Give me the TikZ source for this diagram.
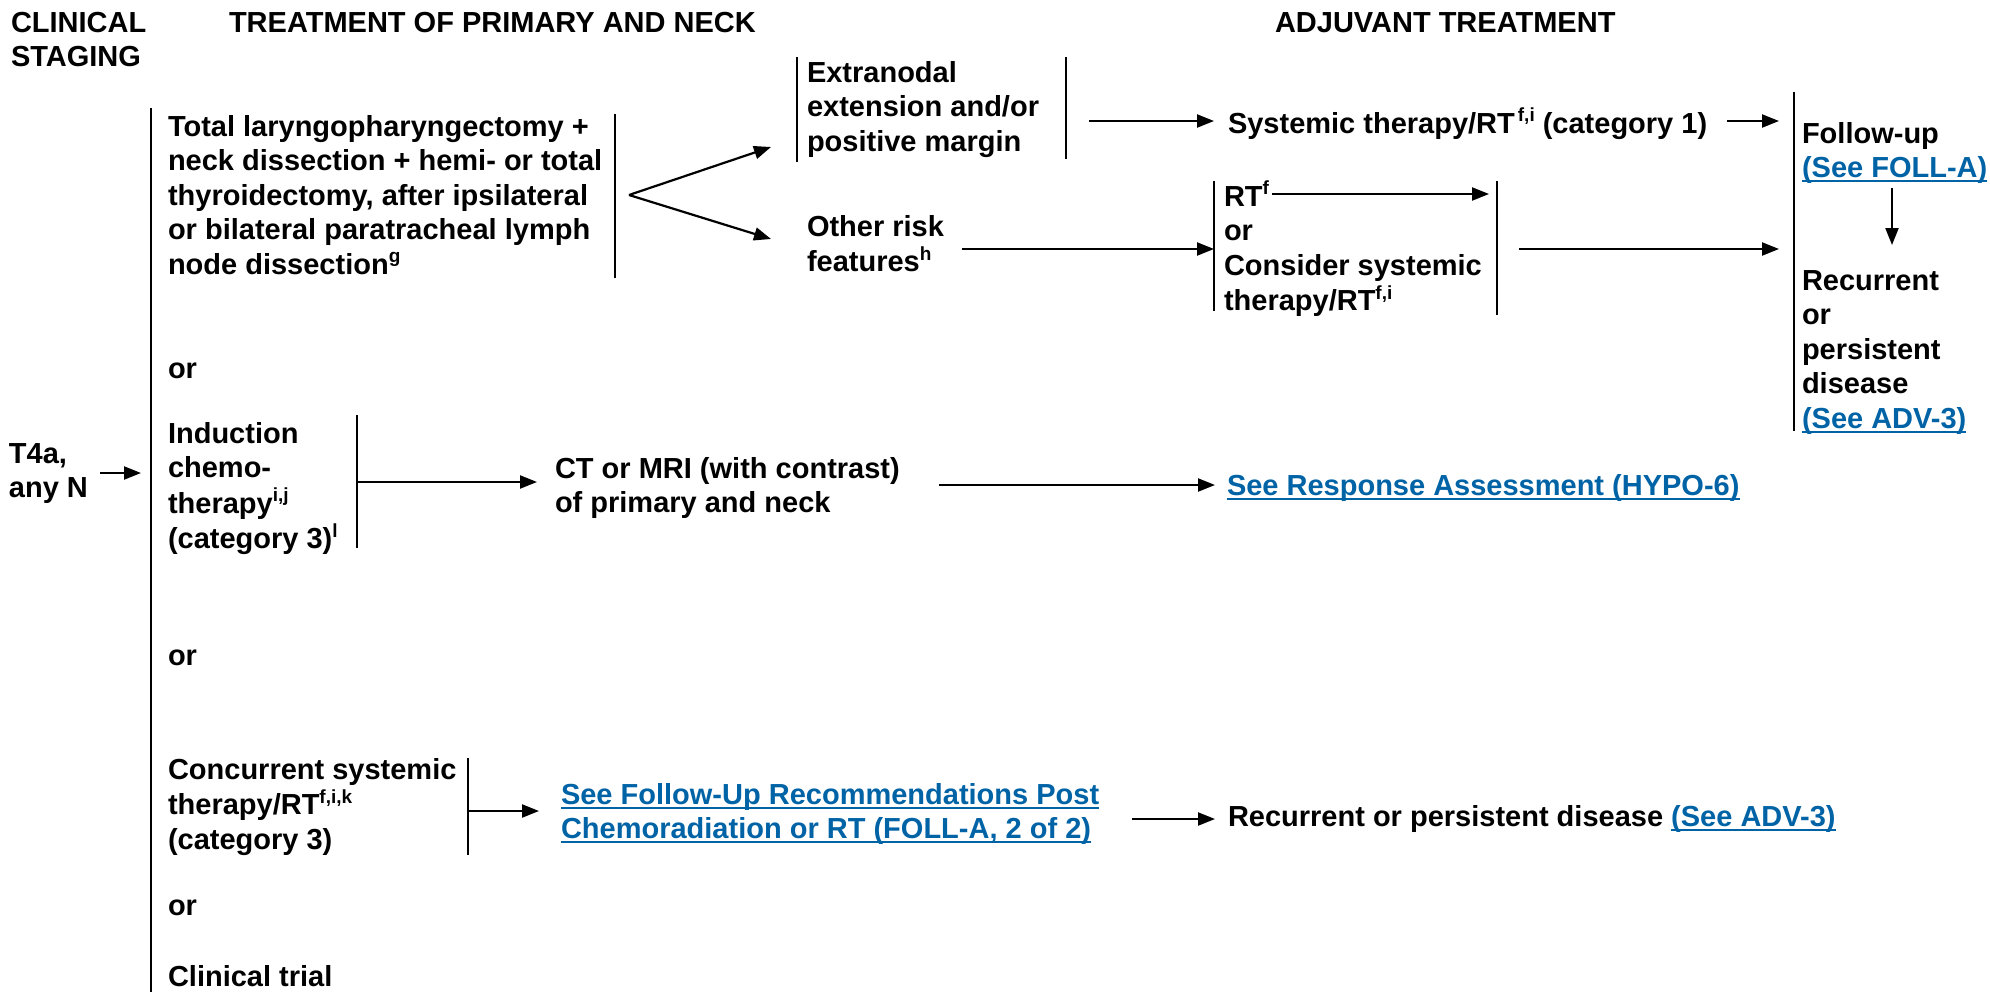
\documentclass[tikz,border=0pt]{standalone}
\usepackage{fontspec}
\setmainfont{Liberation Sans}
\usetikzlibrary{arrows.meta}
\definecolor{linkblue}{HTML}{0063A6}

% multi-line text block whose baseline is the first line
\newcommand\txtlines[1]{\begin{tabular}[t]{@{}l@{}}#1\end{tabular}}
% small raised footnote letters
\newcommand\supr[1]{\raisebox{11.5pt}{\fontsize{19}{19}\selectfont #1}}
% blue underlined cross reference
\newcommand\lnk[1]{{\color{linkblue}\setbox0\hbox{#1}\rlap{\rule[-4.5pt]{\wd0}{1.8pt}}\box0}}

\tikzset{
  txt/.style={anchor=base west, inner sep=0pt, outer sep=0pt,
              font=\fontsize{29}{34.5}\selectfont\bfseries},
  bar/.style={line width=2.2pt},
  arr/.style={line width=2.2pt, -{Triangle[length=17pt,width=13pt]}},
}

\begin{document}
\begin{tikzpicture}[x=1pt,y=-1pt]
\useasboundingbox (0,0) rectangle (1990,991);

% column headings
\node[txt] (hclin)  at (11,32)   {\txtlines{CLINICAL\\STAGING}};
\node[txt] (htreat) at (229,32)  {TREATMENT OF PRIMARY AND NECK};
\node[txt] (hadj)   at (1275,32) {ADJUVANT TREATMENT};

% staging and the main bracket
\node[txt] (t4a) at (9,463) {\txtlines{T4a,\\any N}};
\coordinate (mainTop) at (151,108);
\coordinate (mainBot) at (151,993);
\coordinate (t4aOut) at (100,473);
\coordinate (t4aIn)  at (141,473);
\draw[bar] (mainTop) -- (mainBot);
\draw[arr] (t4aOut) -- (t4aIn);

% surgery option
\node[txt] (surg) at (168,136) {\txtlines{Total laryngopharyngectomy +\\neck dissection + hemi- or total\\thyroidectomy, after ipsilateral\\or bilateral paratracheal lymph\\node dissection\supr{g}}};
\coordinate (surgBarT) at (615,114);
\coordinate (surgBarB) at (615,278);
\draw[bar] (surgBarT) -- (surgBarB);
\coordinate (fork) at (629,195);
\coordinate (extTip) at (771,147);
\coordinate (othTip) at (771,239);
\draw[arr] (fork) -- (extTip);
\draw[arr] (fork) -- (othTip);

% extranodal extension branch
\node[txt] (ext) at (807,82) {\txtlines{Extranodal\\extension and/or\\positive margin}};
\coordinate (extLT) at (797,57);  \coordinate (extLB) at (797,162);
\coordinate (extRT) at (1066,57); \coordinate (extRB) at (1066,159);
\draw[bar] (extLT) -- (extLB);
\draw[bar] (extRT) -- (extRB);
\coordinate (extOut) at (1089,121);
\coordinate (sysIn) at (1214,121);
\draw[arr] (extOut) -- (sysIn);
\node[txt] (sys) at (1228,133) {Systemic therapy/RT\hspace{3pt}\supr{f,i} (category 1)};
\coordinate (sysOut) at (1727,121);
\coordinate (fuIn1) at (1779,121);
\draw[arr] (sysOut) -- (fuIn1);

% other risk features branch
\node[txt] (oth) at (807,236) {\txtlines{Other risk\\features\supr{h}}};
\coordinate (othOut) at (962,249);
\coordinate (rtIn) at (1214,249);
\draw[arr] (othOut) -- (rtIn);
\coordinate (rtLT) at (1214,181); \coordinate (rtLB) at (1214,311);
\coordinate (rtRT) at (1497,181); \coordinate (rtRB) at (1497,315);
\draw[bar] (rtLT) -- (rtLB);
\draw[bar] (rtRT) -- (rtRB);
\node[txt] (rt) at (1224,206) {\txtlines{RT\supr{f}\\or\\Consider systemic\\therapy/RT\supr{f,i}}};
\coordinate (rtfOut) at (1272,194);
\coordinate (rtfIn) at (1489,194);
\draw[arr] (rtfOut) -- (rtfIn);
\coordinate (rtOut) at (1519,249);
\coordinate (fuIn2) at (1779,249);
\draw[arr] (rtOut) -- (fuIn2);

% follow-up column
\coordinate (fuT) at (1794,92);
\coordinate (fuB) at (1794,431);
\draw[bar] (fuT) -- (fuB);
\node[txt] (fu) at (1802,143) {\txtlines{Follow-up\\\lnk{(See FOLL-A)}}};
\coordinate (fuDown) at (1892,188);
\coordinate (recTop) at (1892,245);
\draw[arr] (fuDown) -- (recTop);
\node[txt] (rec) at (1802,290) {\txtlines{Recurrent\\or\\persistent\\disease\\\lnk{(See ADV-3)}}};

% induction option
\node[txt] (or1) at (168,378) {or};
\node[txt] (ind) at (168,443) {\txtlines{Induction\\chemo-\\therapy\supr{i,j}\\(category 3)\supr{l}}};
\coordinate (indT) at (357,415); \coordinate (indB) at (357,548);
\draw[bar] (indT) -- (indB);
\coordinate (indOut) at (358,482);
\coordinate (ctIn) at (537,482);
\draw[arr] (indOut) -- (ctIn);
\node[txt] (ct) at (555,478) {\txtlines{CT or MRI (with contrast)\\of primary and neck}};
\coordinate (ctOut) at (939,485);
\coordinate (respIn) at (1215,485);
\draw[arr] (ctOut) -- (respIn);
\node[txt] (resp) at (1227,495) {\lnk{See Response Assessment (HYPO-6)}};

% concurrent systemic therapy option
\node[txt] (or2) at (168,665) {or};
\node[txt] (conc) at (168,779) {\txtlines{Concurrent systemic\\therapy/RT\supr{f,i,k}\\(category 3)}};
\coordinate (concT) at (468,758); \coordinate (concB) at (468,855);
\draw[bar] (concT) -- (concB);
\coordinate (concOut) at (468,811);
\coordinate (follIn) at (539,811);
\draw[arr] (concOut) -- (follIn);
\node[txt] (foll) at (561,804) {\txtlines{\lnk{See Follow-Up Recommendations Post}\\\lnk{Chemoradiation or RT (FOLL-A, 2 of 2)}}};
\coordinate (follOut) at (1132,819);
\coordinate (recIn) at (1215,819);
\draw[arr] (follOut) -- (recIn);
\node[txt] (rec2) at (1228,826) {Recurrent or persistent disease \lnk{(See ADV-3)}};

% clinical trial option
\node[txt] (or3) at (168,915) {or};
\node[txt] (trial) at (168,986) {Clinical trial};
\end{tikzpicture}
\end{document}
